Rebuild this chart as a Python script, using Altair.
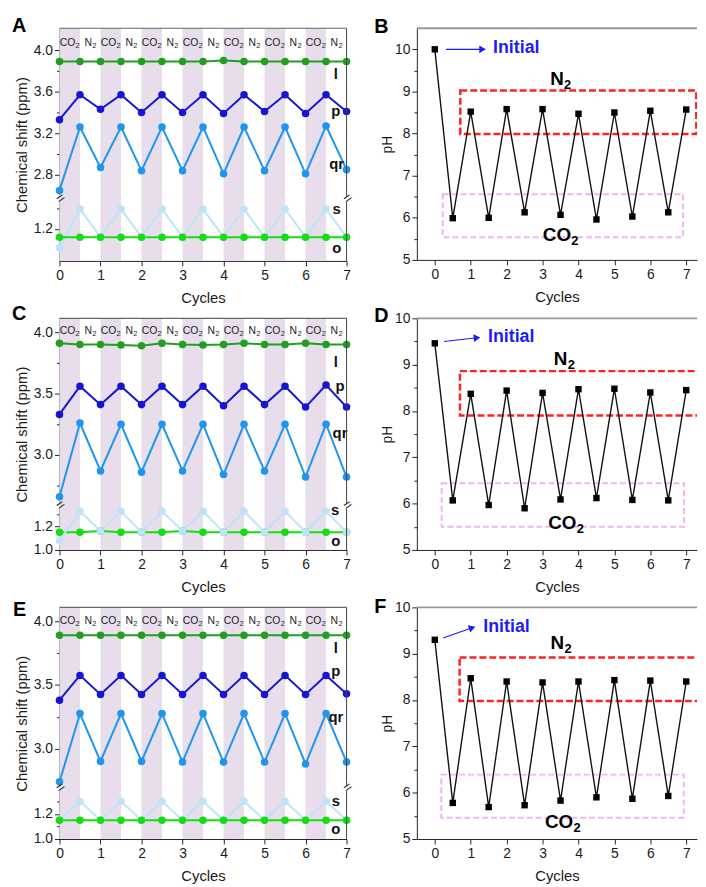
import altair as alt
import pandas as pd

FONT = "Liberation Sans"

cycles = [0, 0.5, 1, 1.5, 2, 2.5, 3, 3.5, 4, 4.5, 5, 5.5, 6, 6.5, 7]
band_start = [0, 1, 2, 3, 4, 5, 6]
band_end = [0.5, 1.5, 2.5, 3.5, 4.5, 5.5, 6.5]
co2_label_x = [0.25, 1.25, 2.25, 3.25, 4.25, 5.25, 6.25]
n2_label_x = [0.75, 1.75, 2.75, 3.75, 4.75, 5.75, 6.75]

series_names = ["l", "p", "qr", "s", "o"]
series_colors = ["#239e23", "#1616d2", "#1f95ee", "#bfe3f8", "#14dd14"]

# ---- Panel A (chemical shift, ppm) ----
A_l = [3.89, 3.89, 3.89, 3.89, 3.89, 3.89, 3.89, 3.89, 3.90, 3.89, 3.89, 3.89, 3.89, 3.89, 3.89]
A_p = [3.33, 3.57, 3.43, 3.57, 3.40, 3.57, 3.40, 3.57, 3.39, 3.57, 3.41, 3.57, 3.39, 3.57, 3.41]
A_qr = [2.65, 3.26, 2.87, 3.26, 2.84, 3.26, 2.84, 3.26, 2.81, 3.26, 2.84, 3.26, 2.81, 3.27, 2.85]
A_s = [1.02, 1.39, 1.12, 1.39, 1.12, 1.39, 1.12, 1.39, 1.12, 1.39, 1.12, 1.39, 1.12, 1.39, 1.12]
A_o = [1.12, 1.12, 1.12, 1.12, 1.12, 1.12, 1.12, 1.12, 1.12, 1.12, 1.12, 1.12, 1.12, 1.12, 1.12]

# ---- Panel C ----
C_l = [3.91, 3.90, 3.90, 3.895, 3.89, 3.91, 3.90, 3.895, 3.90, 3.91, 3.90, 3.90, 3.91, 3.90, 3.90]
C_p = [3.33, 3.56, 3.41, 3.56, 3.41, 3.56, 3.41, 3.56, 3.40, 3.56, 3.41, 3.56, 3.39, 3.57, 3.39]
C_qr = [2.66, 3.26, 2.87, 3.25, 2.86, 3.25, 2.87, 3.25, 2.84, 3.25, 2.87, 3.25, 2.82, 3.25, 2.82]
C_s = [1.08, 1.325, 1.16, 1.325, 1.15, 1.325, 1.16, 1.325, 1.15, 1.325, 1.15, 1.325, 1.15, 1.325, 1.15]
C_o = [1.15, 1.15, 1.16, 1.15, 1.15, 1.15, 1.16, 1.15, 1.15, 1.15, 1.15, 1.15, 1.15, 1.15, 1.15]

# ---- Panel E ----
E_l = [3.89, 3.89, 3.89, 3.89, 3.89, 3.89, 3.89, 3.89, 3.89, 3.89, 3.89, 3.89, 3.89, 3.89, 3.89]
E_p = [3.38, 3.575, 3.425, 3.575, 3.425, 3.575, 3.425, 3.575, 3.425, 3.575, 3.425, 3.575, 3.425, 3.575, 3.43]
E_qr = [2.74, 3.275, 2.90, 3.275, 2.90, 3.275, 2.895, 3.275, 2.895, 3.275, 2.895, 3.275, 2.88, 3.275, 2.895]
E_s = [1.15, 1.30, 1.15, 1.30, 1.15, 1.30, 1.15, 1.30, 1.15, 1.30, 1.15, 1.30, 1.15, 1.30, 1.15]
E_o = [1.15, 1.15, 1.15, 1.15, 1.15, 1.15, 1.15, 1.15, 1.15, 1.15, 1.15, 1.15, 1.15, 1.15, 1.15]

# ---- pH panels ----
B_ph = [10.00, 5.99, 8.52, 6.00, 8.58, 6.13, 8.58, 6.07, 8.47, 5.96, 8.50, 6.03, 8.54, 6.13, 8.57]
D_ph = [9.46, 6.07, 8.37, 5.97, 8.44, 5.90, 8.39, 6.09, 8.47, 6.12, 8.48, 6.08, 8.40, 6.07, 8.45]
F_ph = [9.30, 5.78, 8.47, 5.69, 8.40, 5.73, 8.38, 5.83, 8.40, 5.90, 8.43, 5.87, 8.42, 5.93, 8.40]

color = alt.Color("series:N", scale=alt.Scale(domain=series_names, range=series_colors), legend=None)
one = pd.DataFrame({"k": [0]})


def sub_label(df, X, Y, main, dx_main, size, sub_size, sub_dy, weight, color_="#222"):
    """Text with a subscript 2, built from two text marks."""
    return [
        alt.Chart(df).mark_text(text=main, align="right", dx=dx_main, fontSize=size, fontWeight=weight,
                                color=color_).encode(x=X, y=Y),
        alt.Chart(df).mark_text(text="2", align="left", dx=dx_main + 0.3, dy=sub_dy, fontSize=sub_size,
                                fontWeight=weight, color=color_).encode(x=X, y=Y),
    ]


def left_panel(letter, up, low, up_dom, up_px, low_dom, low_px, height, up_ticks, up_minor,
               low_ticks, low_minor, band_y, labels_up, labels_low, s_on_top, tdx, tdy):
    X = alt.X("x:Q", scale=alt.Scale(domain=[0, 7], nice=False, zero=False),
              axis=alt.Axis(values=list(range(8)), format="d", title="Cycles"))
    up_df = pd.DataFrame([{"x": c, "y": v, "series": n} for n, vals in up for c, v in zip(cycles, vals)])
    low_df = pd.DataFrame([{"x": c, "y": v, "series": n} for n, vals in low for c, v in zip(cycles, vals)])
    sU = alt.Scale(domain=up_dom, range=[up_px, 0], nice=False, zero=False)
    sL = alt.Scale(domain=low_dom, range=[height, height - low_px], nice=False, zero=False)
    yU = alt.Y("y:Q", scale=sU,
               axis=alt.Axis(values=up_ticks, format=".1f", orient="left",
                             title="Chemical shift (ppm)", titleY=height / 2, titlePadding=4))
    yUm = alt.Y("y:Q", scale=sU, axis=alt.Axis(values=up_minor, labels=False, domain=False, tickSize=3,
                                               orient="left", title=""))
    yL = alt.Y("y:Q", scale=sL, axis=alt.Axis(values=low_ticks, format=".1f", orient="left", title=""))
    yLm = alt.Y("y:Q", scale=sL, axis=alt.Axis(values=low_minor, labels=False, domain=False, tickSize=3,
                                               orient="left", title=""))
    band_df = pd.DataFrame({"x": band_start, "x2": band_end})
    co_df = pd.DataFrame({"x": co2_label_x, "y": [band_y] * len(co2_label_x)})
    n_df = pd.DataFrame({"x": n2_label_x, "y": [band_y] * len(n2_label_x)})
    brk_df = pd.DataFrame({"x": [0, 7]})
    lu_df = pd.DataFrame(labels_up, columns=["t", "x", "y"])
    ll_df = pd.DataFrame(labels_low, columns=["t", "x", "y"])

    bands = alt.Chart(band_df).mark_rect(color="#e7ddeb").encode(x=X, x2="x2:Q")

    upper_marks = alt.layer(
        alt.Chart(up_df).mark_line(strokeWidth=2).encode(x=X, y=yU, color=color, detail="series:N"),
        alt.Chart(up_df).mark_circle(size=58, opacity=1).encode(x=X, y=yU, color=color),
        *sub_label(co_df, X, yU, "CO", 5.6, 10.5, 7.5, 3, "normal"),
        *sub_label(n_df, X, yU, "N", 1.8, 10.5, 7.5, 3, "normal"),
        alt.Chart(lu_df).mark_text(fontSize=15, fontWeight="bold", color="#111").encode(x=X, y=yU, text="t:N"),
        alt.Chart(one).mark_rule(color="#666", strokeWidth=1.2).encode(y=alt.datum(up_dom[1])),
        alt.Chart(one).mark_rule(color="#444", strokeWidth=1).encode(
            x=alt.datum(7), y=alt.datum(up_dom[0]), y2=alt.datum(up_dom[1])),
        alt.Chart(brk_df).mark_text(text="=", angle=325, fontSize=14, dy=(height - low_px - up_px) / 2,
                                    color="#222").encode(x=X, y=alt.datum(up_dom[0])),
    )
    upper = alt.layer(
        upper_marks,
        alt.Chart(up_df).mark_point(opacity=0).encode(x=X, y=yUm),
    ).resolve_axis(y="independent")

    order = ["o", "s"] if s_on_top else ["s", "o"]
    low_df["ord"] = low_df["series"].map({k: i for i, k in enumerate(order)})
    low_df = low_df.sort_values(["ord", "x"], kind="stable")
    lower_marks = alt.layer(
        alt.Chart(low_df).mark_line(strokeWidth=2).encode(x=X, y=yL, color=color, detail="series:N",
                                                          order="ord:Q"),
        alt.Chart(low_df).mark_circle(size=58, opacity=1).encode(x=X, y=yL, color=color),
        alt.Chart(ll_df).mark_text(fontSize=15, fontWeight="bold", color="#111").encode(x=X, y=yL, text="t:N"),
        alt.Chart(one).mark_rule(color="#444", strokeWidth=1).encode(
            x=alt.datum(7), y=alt.datum(low_dom[0]), y2=alt.datum(low_dom[1])),
    )
    lower = alt.layer(
        lower_marks,
        alt.Chart(low_df).mark_point(opacity=0).encode(x=X, y=yLm),
    ).resolve_axis(y="independent")

    return alt.layer(bands, upper, lower).resolve_scale(y="independent").properties(
        width=290, height=height,
        title=alt.TitleParams(text=letter, anchor="start", frame="group", dx=tdx, dy=tdy, offset=0,
                              fontSize=20, fontWeight="bold", color="#000"))


def right_panel(letter, ph, ymax, red, pink, n2, co2, init, a0, ah, hang, tdx, tdy):
    X = alt.X("x:Q", scale=alt.Scale(domain=[-0.5, 7.3], nice=False, zero=False),
              axis=alt.Axis(values=list(range(8)), format="d", title="Cycles"))
    sY = alt.Scale(domain=[5, ymax], nice=False, zero=False)
    Y = alt.Y("y:Q", scale=sY,
              axis=alt.Axis(values=[5, 6, 7, 8, 9, 10], format="d", title="pH", titlePadding=0,
                            titleFontSize=14))
    Ym = alt.Y("y:Q", scale=sY, axis=alt.Axis(values=[5.5, 6.5, 7.5, 8.5, 9.5], labels=False, domain=False,
                                              tickSize=3, orient="left", title=""))
    df = pd.DataFrame({"x": cycles, "y": ph})
    red_df = pd.DataFrame({"x": [red[0]], "x2": [red[1]], "y": [red[2]], "y2": [red[3]]})
    pink_df = pd.DataFrame({"x": [pink[0]], "x2": [pink[1]], "y": [pink[2]], "y2": [pink[3]]})
    n2_df = pd.DataFrame({"x": [n2[0]], "y": [n2[1]]})
    co2_df = pd.DataFrame({"x": [co2[0]], "y": [co2[1]]})
    init_df = pd.DataFrame({"t": ["Initial"], "x": [init[0]], "y": [init[1]]})
    blue = "#1c1cf5"
    marks = alt.layer(
        alt.Chart(pink_df).mark_rect(fillOpacity=0, stroke="#f2b4f2", strokeWidth=2, strokeDash=[6, 3],
                                     clip=True).encode(x=X, x2="x2:Q", y=Y, y2="y2:Q"),
        alt.Chart(red_df).mark_rect(fillOpacity=0, stroke="#ff2222", strokeWidth=2.5, strokeDash=[7, 3],
                                    clip=True).encode(x=X, x2="x2:Q", y=Y, y2="y2:Q"),
        alt.Chart(df).mark_line(color="#111", strokeWidth=1.4).encode(x=X, y=Y),
        alt.Chart(df).mark_square(color="#000", size=42, opacity=1).encode(x=X, y=Y),
        *sub_label(n2_df, X, Y, "N", 3.3, 19, 13, 6, "bold", "#000"),
        *sub_label(co2_df, X, Y, "CO", 10.6, 19, 13, 6, "bold", "#000"),
        alt.Chart(init_df).mark_text(fontSize=18, fontWeight="bold", color=blue, align="left").encode(
            x=X, y=Y, text="t:N"),
        alt.Chart(one).mark_rule(color=blue, strokeWidth=1.2).encode(
            x=alt.datum(a0[0]), y=alt.datum(a0[1]), x2=alt.datum(ah[0]), y2=alt.datum(ah[1])),
        alt.Chart(one).mark_point(shape="triangle-right", filled=True, size=60, angle=hang, color=blue,
                                  opacity=1).encode(x=alt.datum(ah[0]), y=alt.datum(ah[1])),
        alt.Chart(one).mark_rule(color="#999", strokeWidth=1.8).encode(y=alt.datum(ymax)),
    )
    return alt.layer(
        marks,
        alt.Chart(df).mark_point(opacity=0).encode(x=X, y=Ym),
    ).resolve_axis(y="independent").properties(
        width=283, height=234,
        title=alt.TitleParams(text=letter, anchor="start", frame="group", dx=tdx, dy=tdy, offset=0,
                              fontSize=20, fontWeight="bold", color="#000"))


pA = left_panel("A", [("l", A_l), ("p", A_p), ("qr", A_qr)], [("s", A_s), ("o", A_o)],
                [2.591, 4.21], 170, [0.892, 1.463], 60, 235, [2.8, 3.2, 3.6, 4.0], [3.0, 3.4, 3.8],
                [1.2], [1.0, 1.4], 4.067,
                [("l", 6.74, 3.77), ("p", 6.74, 3.41), ("qr", 6.76, 2.90)],
                [("s", 6.76, 1.394), ("o", 6.76, 1.012)], False, -48, 8.7)
pC = left_panel("C", [("l", C_l), ("p", C_p), ("qr", C_qr)], [("s", C_s), ("o", C_o)],
                [2.605, 4.113], 187, [1.0, 1.35], 42, 234, [3.0, 3.5, 4.0], [2.75, 3.25, 3.75],
                [1.0, 1.2], [1.1, 1.3], 4.011,
                [("l", 6.74, 3.76), ("p", 6.84, 3.56), ("qr", 6.84, 3.18)],
                [("s", 6.72, 1.333), ("o", 6.74, 1.078)], True, -48, 6.4)
pE = left_panel("E", [("l", E_l), ("p", E_p), ("qr", E_qr)], [("s", E_s), ("o", E_o)],
                [2.710, 4.109], 180, [1.0, 1.386], 49, 234, [3.0, 3.5, 4.0], [2.75, 3.25, 3.75],
                [1.0, 1.2], [1.1, 1.3], 4.005,
                [("l", 6.74, 3.79), ("p", 6.74, 3.61), ("qr", 6.74, 3.25)],
                [("s", 6.74, 1.30), ("o", 6.74, 1.08)], False, -47, 13)

pB = right_panel("B", B_ph, 10.5, (0.71, 7.28, 7.99, 9.02), (0.22, 6.91, 5.54, 6.56),
                 (3.5, 9.30), (3.5, 5.59), (1.62, 10.02), (0.31, 10.0), (1.33, 10.0), 0, -43, 9.5)
pD = right_panel("D", D_ph, 10, (0.70, 7.45, 7.90, 8.86), (0.19, 6.94, 5.50, 6.44),
                 (3.6, 9.125), (3.65, 5.57), (1.48, 9.59), (0.26, 9.50), (1.175, 9.58), 354, -43, 14.4)
pF = right_panel("F", F_ph, 10, (0.69, 7.45, 7.98, 8.92), (0.18, 6.93, 5.46, 6.39),
                 (3.51, 9.22), (3.56, 5.37), (1.35, 9.57), (0.23, 9.34), (1.04, 9.56), 341, -43, 17)

chart = alt.concat(pA, pB, pC, pD, pE, pF, columns=2, spacing={"row": 58, "column": 71},
                   bounds="flush").properties(
    padding={"left": 4, "top": 4, "right": 0, "bottom": 0}
).configure(font=FONT).configure_view(stroke=None).configure_axis(
    labelFontSize=14, titleFontSize=15, titleFontWeight="normal", labelColor="#1a1a1a",
    titleColor="#1a1a1a", domainColor="#222", tickColor="#222", tickSize=5, labelPadding=2,
    grid=False, labelFlush=False, titlePadding=5, labelFont=FONT, titleFont=FONT
).configure_axisX(labelPadding=3, titlePadding=8).configure_title(font=FONT)

chart.save("out.html", embed_options={"renderer": "svg", "actions": False})
